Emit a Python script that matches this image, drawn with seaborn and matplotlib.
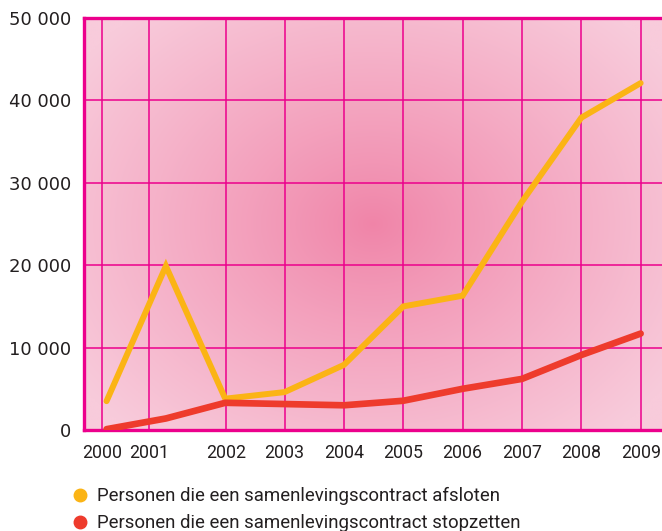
import numpy as np
import pandas as pd
import matplotlib
matplotlib.use("Agg")
import matplotlib.pyplot as plt
from matplotlib.lines import Line2D
from matplotlib.colors import to_rgb
import seaborn as sns

# Data
years = [2000, 2001, 2002, 2003, 2004, 2005, 2006, 2007, 2008, 2009]
afsloten = [3500, 19900, 3800, 4600, 7900, 15000, 16300, 27700, 37900, 42100]
stopzetten = [100, 1400, 3300, 3150, 3000, 3550, 5000, 6200, 9100, 11700]
year_labels = [str(y) for y in years]
y_ticks = [0, 10000, 20000, 30000, 40000, 50000]
y_labels = ["0", "10 000", "20 000", "30 000", "40 000", "50 000"]
series_names = ["Personen die een samenlevingscontract afsloten",
                "Personen die een samenlevingscontract stopzetten"]

df = pd.DataFrame({"jaar": years * 2,
                   "aantal": afsloten + stopzetten,
                   "reeks": [series_names[0]] * 10 + [series_names[1]] * 10})

sns.set_style("white")
plt.rcParams['font.family'] = ['DejaVu Sans']

magenta = "#EC008C"
yellow = "#FBB415"
red = "#EE3B2C"
narrow = ['Roboto', 'DejaVu Sans']

fig = plt.figure(figsize=(6.62, 5.31), dpi=100)
ax = fig.add_axes([84 / 662, 101 / 531, 578 / 662, 412 / 531])

# radial pink background
gx, gy = np.meshgrid(np.linspace(0, 1, 300), np.linspace(0, 1, 300))
r = np.sqrt(((gx - 0.5) / 0.62) ** 2 + ((gy - 0.5) / 0.68) ** 2)
t = np.clip(r, 0, 1) ** 0.9
c_mid = np.array(to_rgb("#F084A8"))
c_edge = np.array(to_rgb("#F8CBDB"))
img = c_mid * (1 - t[..., None]) + c_edge * t[..., None]
ax.imshow(img, extent=[0, 1, 0, 1], transform=ax.transAxes, aspect="auto",
          origin="lower", zorder=-1)

sns.lineplot(data=df, x="jaar", y="aantal", hue="reeks",
             palette=[yellow, red], ax=ax, legend=False, zorder=3)
ax.lines[0].set_linewidth(4.3)
ax.lines[1].set_linewidth(4.8)
for ln in ax.lines:
    ln.set_solid_capstyle("round")
    ln.set_solid_joinstyle("miter")

ax.set_xlim(1999.62, 2009.36)
ax.set_ylim(0, 50000)
ax.set_xticks([1999.92, 2000.71, 2002.01, 2003, 2004, 2005, 2006, 2007, 2008, 2009])
ax.set_xticklabels(year_labels, fontfamily=narrow, fontsize=12.8, color="#231F20")
ax.set_yticks(y_ticks)
ax.set_yticklabels(y_labels, fontsize=13, color="#231F20")
ax.tick_params(axis="both", length=0)
ax.tick_params(axis="x", pad=10)
ax.tick_params(axis="y", pad=9)
ax.set_xlabel("")
ax.set_ylabel("")

ax.set_axisbelow(True)
ax.grid(True, color=magenta, linewidth=1.1)
for side in ["left", "top", "bottom"]:
    ax.spines[side].set_color(magenta)
    ax.spines[side].set_linewidth(2.4)
ax.spines["right"].set_visible(False)

handles = [Line2D([], [], marker="o", linestyle="none", markersize=9,
                  markerfacecolor=c, markeredgecolor=c) for c in [yellow, red]]
fig.legend(handles, series_names, loc="upper left", bbox_to_anchor=(72 / 662, 1 - 487 / 531),
           frameon=False, handlelength=0.9, handletextpad=0.45, labelspacing=0.5,
           borderaxespad=0, borderpad=0,
           prop={"family": narrow, "size": 13.4}, labelcolor="#231F20")

fig.savefig("out.png", dpi=100)
